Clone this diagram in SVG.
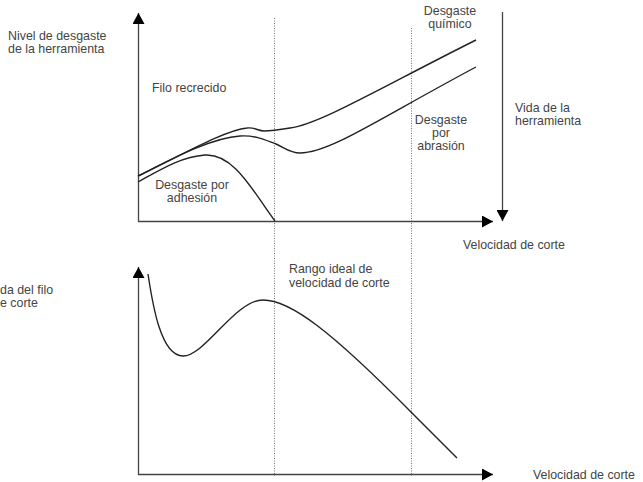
<svg xmlns="http://www.w3.org/2000/svg" width="643" height="482" viewBox="0 0 643 482">
<style>
text{font-family:"Liberation Sans",Arial,sans-serif;font-size:12.4px;fill:#444}
.axis{stroke:#444;stroke-width:1.3;fill:none}
.curve{stroke:#222;stroke-width:1.4;fill:none}
.dot{stroke:#777;stroke-width:1;stroke-dasharray:1,1.5;fill:none}
.c{text-anchor:middle}
</style>
<defs>
<marker id="ah" markerWidth="12" markerHeight="12" refX="11" refY="6" orient="auto" markerUnits="userSpaceOnUse">
<path d="M0,0 L11,6 L0,12 Z" fill="#000"/>
</marker>
</defs>
<rect width="643" height="482" fill="#fff"/>
<g id="guides">
<line class="dot" x1="274.5" y1="18" x2="274.5" y2="476"/>
<line class="dot" x1="411.5" y1="28" x2="411.5" y2="476"/>
</g>
<g id="axes">
<line class="axis" x1="138.5" y1="222" x2="138.5" y2="13" marker-end="url(#ah)"/>
<line class="axis" x1="138" y1="221.5" x2="493" y2="221.5" marker-end="url(#ah)"/>
<line class="axis" x1="502.5" y1="12" x2="502.5" y2="221" marker-end="url(#ah)"/>
<line class="axis" x1="138.5" y1="475" x2="138.5" y2="267" marker-end="url(#ah)"/>
<line class="axis" x1="138" y1="474.5" x2="493" y2="474.5" marker-end="url(#ah)"/>
</g>
<g id="curves">
<path id="quimico" class="curve" d="M138,176 C180,156 225,130 247,128 C255,127 258,131 264,131 C272,131 278,130 290,128 C320,124 380,88 476,40"/>
<path id="abrasion" class="curve" d="M138,176 C170,160 210,138 240,136 C255,135 265,140 276,144 C285,148 290,153 300,153 C330,153 380,118 476,67"/>
<path id="adhesion" class="curve" d="M138,182 C160,170 180,157 205,155 C235,153 255,195 275,221"/>
<path id="filo" class="curve" d="M148,274 C152,300 160,356 183,356 C205,356 235,300 263,300 C290,300 330,330 411,412 L457,458"/>
</g>
<g id="labels">
<text x="8" y="40">Nivel de desgaste</text>
<text x="8" y="53">de la herramienta</text>
<text x="152" y="92">Filo recrecido</text>
<text class="c" x="450" y="15">Desgaste</text>
<text class="c" x="450" y="28">químico</text>
<text class="c" x="441" y="124">Desgaste</text>
<text class="c" x="441" y="137">por</text>
<text class="c" x="441" y="150">abrasión</text>
<text x="515" y="112">Vida de la</text>
<text x="515" y="125">herramienta</text>
<text class="c" x="192" y="189">Desgaste por</text>
<text class="c" x="192" y="202">adhesión</text>
<text x="463" y="249">Velocidad de corte</text>
<text x="0" y="294">da del filo</text>
<text x="0" y="307">e corte</text>
<text x="289" y="273">Rango ideal de</text>
<text x="289" y="287">velocidad de corte</text>
<text x="533" y="479">Velocidad de corte</text>
</g>
</svg>
